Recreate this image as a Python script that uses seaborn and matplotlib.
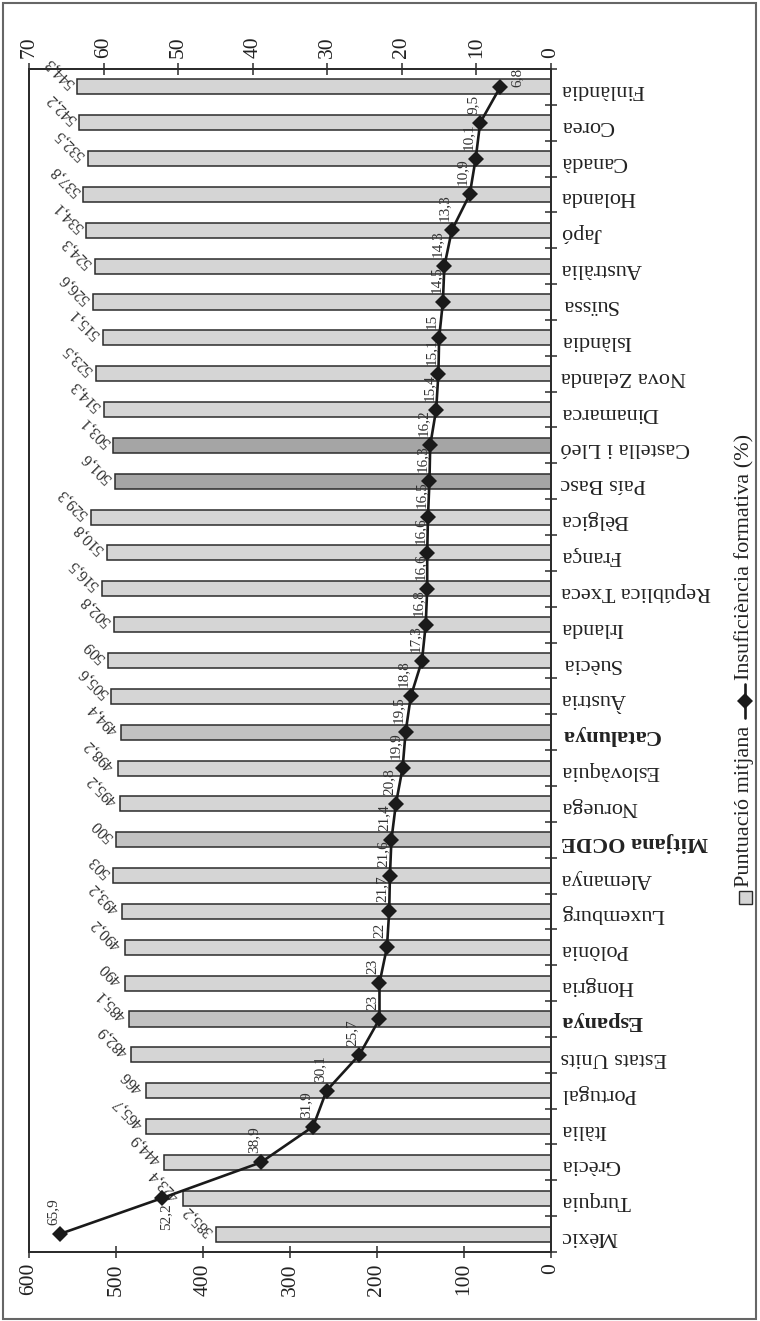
import matplotlib
matplotlib.use("Agg")
import matplotlib.pyplot as plt
from matplotlib.patches import Rectangle
from matplotlib.lines import Line2D
import seaborn as sns
import numpy as np
import pandas as pd

# ------------------- Data ---------------------
countries = ["Finlàndia", "Corea", "Canadà", "Holanda", "Japó", "Austràlia", "Suïssa",
             "Islàndia", "Nova Zelanda", "Dinamarca", "Castella i Lleó", "País Basc",
             "Bèlgica", "França", "República Txeca", "Irlanda", "Suècia", "Àustria",
             "Catalunya", "Eslovàquia", "Noruega", "Mitjana OCDE", "Alemanya", "Luxemburg",
             "Polònia", "Hongria", "Espanya", "Estats Units", "Portugal", "Itàlia",
             "Grècia", "Turquia", "Mèxic"]

puntuacio = [544.3, 542.2, 532.5, 537.8, 534.1, 524.3, 526.6, 515.1, 523.5, 514.3,
             503.1, 501.6, 529.3, 510.8, 516.5, 502.8, 509, 505.6, 494.4, 498.2,
             495.2, 500, 503, 493.2, 490.2, 490, 485.1, 482.9, 466, 465.7,
             444.9, 423.4, 385.2]

insuficiencia = [6.8, 9.5, 10.1, 10.9, 13.3, 14.3, 14.5, 15, 15.1, 15.4,
                 16.2, 16.3, 16.5, 16.6, 16.6, 16.8, 17.3, 18.8, 19.5, 19.9,
                 20.8, 21.4, 21.6, 21.7, 22, 23, 23, 25.7, 30.1, 31.9,
                 38.9, 52.2, 65.9]

score_ticks = [0, 100, 200, 300, 400, 500, 600]
pct_ticks = [0, 10, 20, 30, 40, 50, 60, 70]

highlight_dark = ["Castella i Lleó", "País Basc"]
highlight_mid = ["Catalunya", "Mitjana OCDE", "Espanya"]

# ------------------- Style ---------------------
sns.set_style("white")
plt.rcParams['font.family'] = ['Liberation Serif', 'DejaVu Serif']

LIGHT = '#d5d5d5'
MID = '#c2c2c2'
DARK = '#a5a5a5'
INK = '#2b2b2b'

colors = []
for c in countries:
    if c in highlight_dark:
        colors.append(DARK)
    elif c in highlight_mid:
        colors.append(MID)
    else:
        colors.append(LIGHT)

df = pd.DataFrame({'País': countries, 'Puntuació': puntuacio, 'Insuf': insuficiencia})
df['pos'] = np.arange(len(df))


def fmt(v):
    return f"{v:g}".replace('.', ',')


fig = plt.figure(figsize=(7.6, 13.21), dpi=100)
W, H = 760, 1321
ax = fig.add_axes([29 / W, (H - 1252) / H, 522 / W, 1183 / H])

sns.barplot(data=df, x='Puntuació', y='País', hue='País', palette=colors, legend=False,
            orient='h', width=0.42, edgecolor=INK, linewidth=1.1, ax=ax)

ax.set_xlim(600, 0)
ax.set_ylim(len(df) - 0.5, -0.5)
ax.set_xlabel('')
ax.set_ylabel('')
ax.set_xticks(score_ticks)
ax.set_xticklabels([str(t) for t in score_ticks])
ax.tick_params(axis='x', direction='inout', length=8, width=1.1, colors=INK,
               labelrotation=90, labelsize=15.5, pad=4, labelcolor='#222')

# categories on the right, upside down
ax.yaxis.tick_right()
ax.tick_params(axis='y', which='major', length=0, labelsize=16, pad=7,
               labelrotation=180, labelcolor='#222')
ax.set_yticks(np.arange(-0.5, len(df), 1), minor=True)
ax.tick_params(axis='y', which='minor', direction='inout', length=8, width=1.1,
               colors=INK, right=True, left=False)
for lab in ax.get_yticklabels():
    lab.set_horizontalalignment('left')
    if lab.get_text() in highlight_mid:
        lab.set_fontweight('bold')

for s in ax.spines.values():
    s.set_color(INK)
    s.set_linewidth(1.3)

# bar labels
for i, v in enumerate(puntuacio):
    ax.annotate(fmt(v), (v, i), xytext=(-5, 1), textcoords='offset pixels',
                rotation=135, rotation_mode='anchor', ha='left', va='center',
                fontsize=11.5, color='#333')

# ------------------- Line on the second axis ---------------------
ax2 = ax.twiny()
sns.lineplot(data=df, x='Insuf', y='pos', orient='y', estimator=None, sort=True,
             marker='D', markersize=8, markeredgewidth=0, color='#1a1a1a',
             linewidth=1.9, ax=ax2)
ax2.set_xlim(70, 0)
ax.set_ylim(len(df) - 0.5, -0.5)
ax2.set_xlabel('')
ax2.set_ylabel('')
ax2.set_xticks(pct_ticks)
ax2.set_xticklabels([str(t) for t in pct_ticks])
ax2.tick_params(axis='x', direction='inout', length=8, width=1.1, colors=INK,
                labelrotation=90, labelsize=15.5, pad=4, labelcolor='#222')
for s in ax2.spines.values():
    s.set_color(INK)
    s.set_linewidth(1.3)

for i, v in enumerate(insuficiencia):
    if i == 0:
        off, va, ha = (17, 0), 'bottom', 'center'
    elif i == len(insuficiencia) - 2:
        off, va, ha = (4, -5), 'top', 'center'
    else:
        off, va, ha = (-7, 9), 'bottom', 'center'
    ax2.annotate(fmt(v), (v, i), xytext=off, textcoords='offset pixels',
                 rotation=90, ha=ha, va=va, fontsize=11, color='#333')

# ------------------- Legend (rotated, built by hand) ---------------------
fig.canvas.draw()
r = fig.canvas.get_renderer()
cx = 745 / W
t1 = fig.text(cx, 0.5, 'Puntuació mitjana', rotation=90, ha='center', va='bottom',
              fontsize=16, color='#222')
t2 = fig.text(cx, 0.5, 'Insuficiència formativa (%)', rotation=90, ha='center',
              va='bottom', fontsize=16, color='#222')
L1 = t1.get_window_extent(r).height
L2 = t2.get_window_extent(r).height
sq, g1, g2, ln, g3 = 13, 4, 8, 34, 4
total = sq + g1 + L1 + g2 + ln + g3 + L2
center_img = 669
y0 = (H - center_img) - total / 2  # display pixels, from bottom
fig.add_artist(Rectangle((cx - 6.5 / W, y0 / H), sq / W, sq / H, transform=fig.transFigure,
                         facecolor=LIGHT, edgecolor=INK, linewidth=1.0))
y = y0 + sq + g1
t1.set_position((cx, y / H))
y += L1 + g2
fig.add_artist(Line2D([cx, cx], [y / H, (y + ln) / H], transform=fig.transFigure,
                      color='#1a1a1a', linewidth=1.9))
fig.add_artist(Line2D([cx], [(y + ln / 2) / H], transform=fig.transFigure,
                      marker='D', markersize=8, markeredgewidth=0, color='#1a1a1a'))
y += ln + g3
t2.set_position((cx, y / H))

# outer frame
fig.add_artist(Rectangle((3 / W, 2 / H), 753 / W, 1316 / H, transform=fig.transFigure,
                         fill=False, edgecolor='#666', linewidth=1.5))

plt.savefig('out.png', dpi=100)
